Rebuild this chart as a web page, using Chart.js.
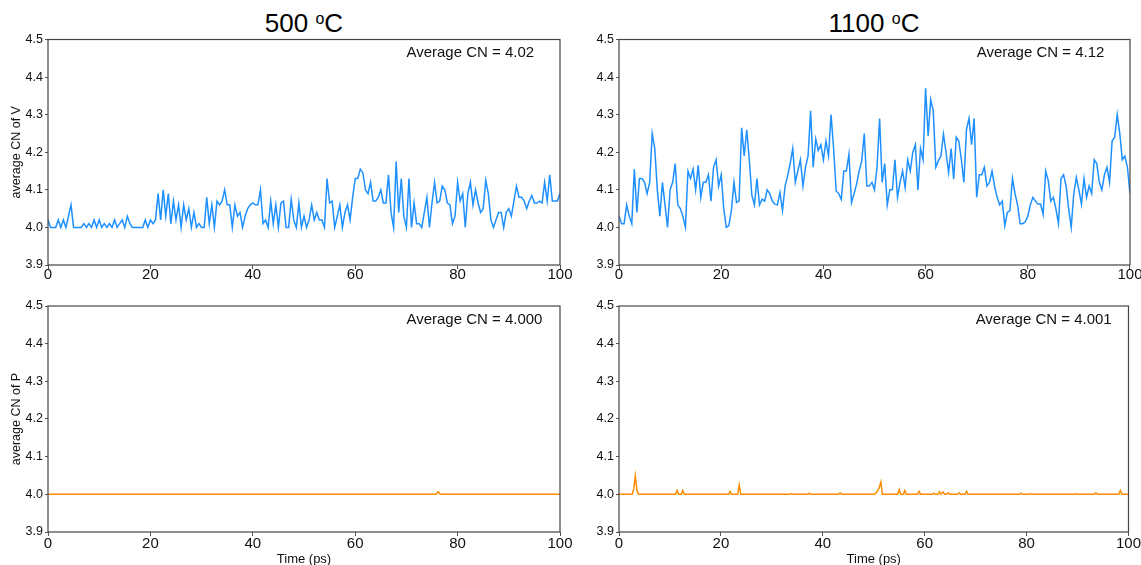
<!DOCTYPE html>
<html>
<head>
<meta charset="utf-8">
<script src="https://cdn.jsdelivr.net/npm/chart.js@4.4.1/dist/chart.umd.min.js"></script>
<style>
  body { margin: 0; width: 1141px; height: 565px; overflow: hidden; background: #fff;
         font-family: "Liberation Sans", Arial, sans-serif; position: relative; }
  canvas { position: absolute; }
  .title { position: absolute; top: 6px; width: 300px; text-align: center;
           font-size: 26px; line-height: 34px; color: #000; }
  .title span { font-size: 16px; position: relative; top: -8px; }
</style>
</head>
<body>
<div class="title" style="left:154px">500 <span>o</span>C</div>
<div class="title" style="left:724px">1100 <span>o</span>C</div>
<canvas id="cnV500" width="585" height="255" style="left:0;top:30px"></canvas>
<canvas id="cnV1100" width="571" height="255" style="left:570px;top:30px"></canvas>
<canvas id="cnP500" width="585" height="271" style="left:0;top:296px"></canvas>
<canvas id="cnP1100" width="571" height="271" style="left:570px;top:296px"></canvas>
<script>
// time axis 0..100 ps, V series read every 0.5 ps
const xTicks = [0, 20, 40, 60, 80, 100];
const yTicks = [3.9, 4.0, 4.1, 4.2, 4.3, 4.4, 4.5];

// average CN of V, 500 oC
const v500 = [
  4.02,4.00,4.00,4.00,4.02,4.00,4.02,4.00,4.03,4.06,
  4.00,4.00,4.00,4.00,4.01,4.00,4.01,4.00,4.02,4.00,
  4.02,4.00,4.01,4.00,4.01,4.00,4.02,4.00,4.01,4.02,
  4.00,4.03,4.01,4.00,4.00,4.00,4.00,4.00,4.02,4.00,
  4.02,4.01,4.02,4.09,4.02,4.10,4.03,4.09,4.01,4.07,
  4.02,4.06,4.00,4.06,4.02,4.05,4.00,4.04,4.00,4.01,
  4.00,4.00,4.08,4.01,4.06,4.00,4.07,4.06,4.07,4.10,
  4.06,4.06,4.00,4.06,4.03,4.04,4.00,4.03,4.05,4.06,
  4.065,4.06,4.06,4.10,4.01,4.02,4.00,4.07,4.01,4.06,
  4.00,4.065,4.07,4.00,4.00,4.075,4.02,4.00,4.065,4.00,
  4.03,4.00,4.02,4.06,4.02,4.04,4.02,4.02,4.00,4.13,
  4.065,4.07,4.00,4.03,4.06,4.00,4.04,4.06,4.02,4.08,
  4.13,4.13,4.155,4.145,4.10,4.09,4.12,4.07,4.07,4.08,
  4.10,4.065,4.065,4.14,4.04,4.00,4.175,4.04,4.13,4.03,
  4.00,4.13,4.00,4.065,4.01,4.01,4.00,4.04,4.08,4.00,
  4.065,4.12,4.065,4.07,4.11,4.10,4.065,4.06,4.01,4.03,
  4.12,4.07,4.09,4.00,4.09,4.12,4.06,4.10,4.065,4.04,
  4.05,4.125,4.09,4.02,4.00,4.02,4.04,4.04,4.00,4.04,
  4.05,4.03,4.07,4.11,4.08,4.08,4.07,4.05,4.07,4.085,
  4.065,4.065,4.07,4.065,4.12,4.07,4.14,4.07,4.07,4.07,
  4.09
];

// average CN of V, 1100 oC
const v1100 = [
  4.03,4.01,4.01,4.06,4.03,4.01,4.155,4.04,4.13,4.13,
  4.12,4.09,4.12,4.25,4.21,4.10,4.03,4.12,4.06,4.00,
  4.10,4.12,4.17,4.06,4.05,4.03,4.00,4.15,4.13,4.155,
  4.10,4.165,4.08,4.12,4.12,4.14,4.07,4.16,4.18,4.11,
  4.14,4.05,4.00,4.005,4.045,4.12,4.066,4.07,4.265,4.19,
  4.26,4.18,4.085,4.06,4.13,4.06,4.075,4.07,4.10,4.09,
  4.07,4.062,4.06,4.093,4.045,4.11,4.137,4.17,4.21,4.12,
  4.15,4.18,4.11,4.16,4.19,4.31,4.16,4.235,4.205,4.22,
  4.18,4.23,4.19,4.30,4.21,4.097,4.09,4.075,4.15,4.15,
  4.195,4.066,4.09,4.115,4.15,4.177,4.25,4.11,4.11,4.12,
  4.10,4.16,4.29,4.12,4.17,4.06,4.10,4.10,4.18,4.08,
  4.12,4.15,4.106,4.18,4.15,4.20,4.22,4.10,4.21,4.18,
  4.37,4.243,4.34,4.31,4.16,4.177,4.19,4.248,4.20,4.146,
  4.21,4.128,4.24,4.23,4.18,4.12,4.26,4.29,4.22,4.29,
  4.08,4.14,4.14,4.16,4.11,4.12,4.15,4.11,4.08,4.06,
  4.07,4.004,4.04,4.045,4.13,4.09,4.06,4.01,4.01,4.015,
  4.03,4.06,4.08,4.07,4.062,4.062,4.035,4.15,4.125,4.07,
  4.08,4.05,4.01,4.13,4.14,4.11,4.05,4.00,4.09,4.133,
  4.10,4.062,4.13,4.08,4.11,4.09,4.18,4.17,4.12,4.10,
  4.14,4.16,4.12,4.23,4.24,4.30,4.25,4.18,4.19,4.16,
  4.09
];

// average CN of P, mostly flat at 4.0 with small spikes
const tP500 = [0, 75.8, 76.2, 76.6, 100];
const p500  = [4.0, 4.0, 4.007, 4.0, 4.0];

const tP1100 = [0, 2.6, 2.9, 3.2, 3.5, 3.8, 11.1, 11.4, 11.7, 12.2, 12.5, 12.8,
  21.5, 21.8, 22.1, 23.3, 23.6, 23.9, 33.5, 33.8, 34.1, 37.1, 37.4, 37.7,
  43.1, 43.4, 43.7, 50.2, 50.6, 51.0, 51.4, 51.7, 54.7, 55.0, 55.3, 55.8, 56.1, 56.4,
  58.6, 58.9, 59.2, 61.5, 61.8, 62.1, 62.6, 62.9, 63.2, 63.6, 63.9, 64.3, 64.6, 64.9,
  66.5, 66.8, 67.1, 67.9, 68.2, 68.5, 78.6, 78.9, 79.2, 80.4, 80.7, 81.0,
  89.3, 89.6, 89.9, 93.3, 93.6, 93.9, 98.1, 98.4, 98.7, 100];
const p1100 = [4.0, 4.0, 4.015, 4.049, 4.012, 4.0, 4.0, 4.01, 4.0, 4.0, 4.01, 4.0,
  4.0, 4.008, 4.0, 4.0, 4.025, 4.0, 4.0, 4.002, 4.0, 4.0, 4.003, 4.0,
  4.0, 4.004, 4.0, 4.0, 4.006, 4.015, 4.033, 4.0, 4.0, 4.013, 4.0, 4.0, 4.01, 4.0,
  4.0, 4.008, 4.0, 4.0, 4.003, 4.0, 4.0, 4.007, 4.0, 4.006, 4.0, 4.0, 4.004, 4.0,
  4.0, 4.004, 4.0, 4.0, 4.008, 4.0, 4.0, 4.003, 4.0, 4.0, 4.002, 4.0,
  4.0, 4.002, 4.0, 4.0, 4.004, 4.0, 4.0, 4.01, 4.0, 4.0];

const FONT = '"Liberation Sans", Arial, sans-serif';
const stepTimes = vals => vals.map((_, i) => i * 0.5);
const pairs = (ts, vs) => ts.map((t, i) => ({ x: t, y: vs[i] }));

// axes box + the "Average CN" note
function framePlugin(note) {
  return {
    id: 'frame',
    afterDraw(chart) {
      const { ctx, chartArea: a } = chart;
      ctx.save();
      ctx.strokeStyle = '#444';
      ctx.lineWidth = 1.2;
      ctx.strokeRect(a.left, a.top, a.right - a.left, a.bottom - a.top);
      ctx.fillStyle = '#111';
      ctx.font = '15px ' + FONT;
      ctx.textBaseline = 'middle';
      ctx.fillText(note, a.left + 0.70 * (a.right - a.left), a.top + 0.06 * (a.bottom - a.top));
      ctx.restore();
    }
  };
}

function lineChart(id, cfg) {
  return new Chart(document.getElementById(id), {
    type: 'line',
    data: {
      datasets: [{
        data: cfg.points,
        borderColor: cfg.color,
        borderWidth: 1.5,
        pointRadius: 0,
        fill: false,
        tension: 0
      }]
    },
    options: {
      responsive: false,
      animation: false,
      events: [],
      layout: { autoPadding: false, padding: cfg.pad },
      plugins: { legend: { display: false }, tooltip: { enabled: false } },
      scales: {
        x: {
          type: 'linear', min: 0, max: 100,
          afterBuildTicks: s => { s.ticks = xTicks.map(v => ({ value: v })); },
          afterFit: s => { s.height = cfg.xh; },
          grid: { drawOnChartArea: false, tickLength: 4, tickColor: '#555' },
          border: { display: false },
          ticks: { font: { family: FONT, size: 15, lineHeight: 1 }, color: '#111', padding: cfg.xpad,
                   maxRotation: 0, autoSkip: false, callback: v => String(v) },
          title: { display: !!cfg.xTitle, text: cfg.xTitle, color: '#111',
                   font: { family: FONT, size: 13 }, padding: { top: 0, bottom: 0 } }
        },
        y: {
          min: 3.9, max: 4.5,
          afterBuildTicks: s => { s.ticks = yTicks.map(v => ({ value: v })); },
          afterFit: s => { s.width = cfg.yw; },
          grid: { drawOnChartArea: false, tickLength: 3, tickColor: '#555' },
          border: { display: false },
          ticks: { font: { family: FONT, size: 12.5 }, color: '#111', padding: 2,
                   autoSkip: false, callback: v => v.toFixed(1) },
          title: { display: !!cfg.yTitle, text: cfg.yTitle, color: '#111',
                   font: { family: FONT, size: 12.5 }, padding: { top: 9.5, bottom: 0 } }
        }
      }
    },
    plugins: [framePlugin(cfg.note)]
  });
}

lineChart('cnV500', {
  points: pairs(stepTimes(v500), v500), color: '#1E90FF', note: 'Average CN = 4.02',
  pad: { top: 9, right: 25, left: 0, bottom: 0 }, xh: 20, xpad: -1.5, yw: 48,
  yTitle: 'average CN of V'
});
lineChart('cnV1100', {
  points: pairs(stepTimes(v1100), v1100), color: '#1E90FF', note: 'Average CN = 4.12',
  pad: { top: 9, right: 11, left: 0, bottom: 0 }, xh: 20, xpad: -1.5, yw: 49
});
lineChart('cnP500', {
  points: pairs(tP500, p500), color: '#FF8C00', note: 'Average CN = 4.000',
  pad: { top: 10, right: 25, left: 0, bottom: 0 }, xh: 35, xpad: 0, yw: 48,
  yTitle: 'average CN of P', xTitle: 'Time (ps)'
});
lineChart('cnP1100', {
  points: pairs(tP1100, p1100), color: '#FF8C00', note: 'Average CN = 4.001',
  pad: { top: 10, right: 11, left: 0, bottom: 0 }, xh: 35, xpad: 0, yw: 49,
  xTitle: 'Time (ps)'
});
</script>
</body>
</html>
